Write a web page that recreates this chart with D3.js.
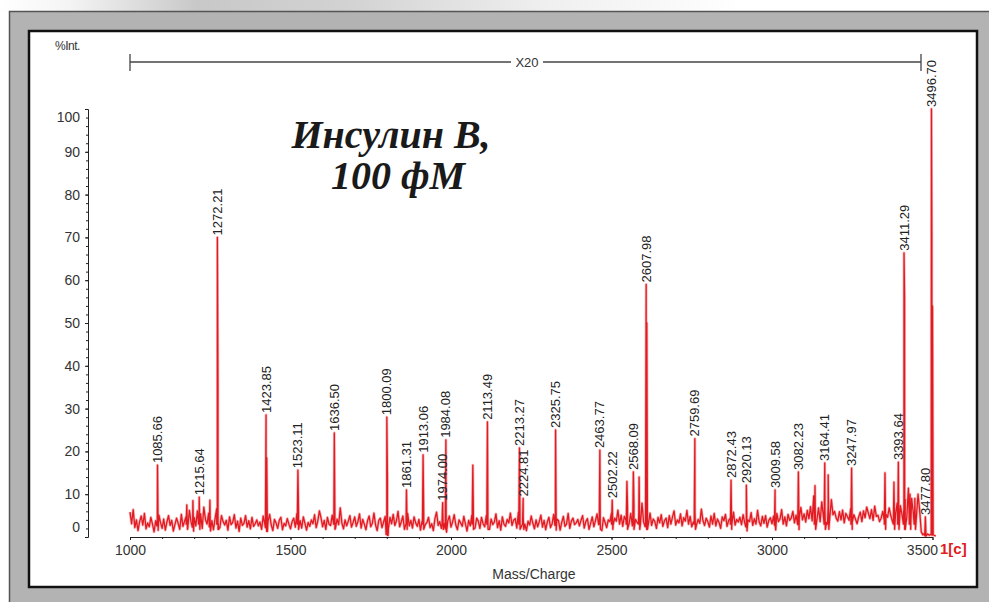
<!DOCTYPE html>
<html>
<head>
<meta charset="utf-8">
<script src="https://cdn.jsdelivr.net/npm/d3@7"></script>
<style>
body { margin: 0; background: #fff; }
</style>
</head>
<body>
<script>
// labelled peaks (m/z, %Int)
var peakLabels = ["1085.66","1215.64","1272.21","1423.85","1523.11","1636.50","1800.09","1861.31","1913.06","1974.00",
                  "1984.08","2113.49","2213.27","2224.81","2325.75","2463.77","2502.22","2568.09","2607.98","2759.69",
                  "2872.43","2920.13","3009.58","3082.23","3164.41","3247.97","3393.64","3411.29","3477.80","3496.70"];
var peakInt = [16.8, 9.3, 70, 28.5, 15.6, 24.3, 28, 11, 19.2, 8,
               22.7, 26.9, 20.8, 9, 25, 20.3, 8.6, 15.2, 59, 23,
               13.3, 12.1, 11, 15.2, 17.3, 16.1, 17.5, 66.4, 4.7, 100];

// unlabelled peaks and shoulders
var otherMass = [1177, 1196, 1249, 1274, 1426, 1802, 2068, 2548, 2586, 2610, 3134, 3175, 3352, 3380, 3413, 3430, 3445, 3498, 3500];
var otherInt  = [7.5, 8.5, 8.6, 36, 18.5, 14, 16.8, 13, 14, 50, 12, 14.5, 15, 12, 56, 10, 9, 71, 54];

// baseline noise, one value every 5 Da from 1000
var noiseStart = 1000, noiseStep = 5;
var noise = [
  5.8,3.1,6.4,2.2,4.0,1.5,3.6,4.9,2.8,5.5,1.9,3.3,2.4,4.6,3.0,1.2,3.8,2.6,5.1,3.4,
  2.0,4.2,1.6,3.5,5.0,2.7,3.9,1.4,2.9,4.4,3.2,1.8,5.3,2.5,3.7,4.8,2.1,6.2,3.6,2.3,
  4.5,2.6,6.1,3.3,5.4,2.0,7.0,4.1,3.0,5.6,2.4,3.8,1.7,4.3,6.6,3.1,2.2,5.0,3.6,2.8,
  3.9,1.6,4.7,2.9,3.4,5.2,2.1,3.7,1.3,4.4,2.7,3.2,5.0,2.3,3.8,1.9,4.6,2.5,3.1,4.0,
  2.6,3.5,1.8,4.9,3.0,2.2,3.7,5.3,2.8,1.5,4.1,3.3,2.0,3.9,4.6,1.7,3.2,2.6,4.3,3.0,
  1.9,3.6,4.4,2.3,5.5,6.0,3.8,2.1,4.7,3.2,1.6,3.4,2.5,4.0,3.1,5.2,2.2,3.7,6.1,4.5,
  2.4,3.9,1.8,4.6,3.0,2.7,5.1,3.5,2.0,4.2,2.9,6.8,3.3,1.9,4.0,2.6,3.7,5.0,2.3,3.4,
  4.7,2.5,3.6,5.4,2.1,4.1,3.0,1.7,3.8,4.9,2.4,3.2,5.6,2.8,1.5,3.9,4.4,2.2,3.5,4.8,
  0.6,2.0,4.6,3.1,5.3,2.7,3.8,6.0,2.4,3.5,4.9,1.8,3.0,5.5,2.6,3.9,2.1,4.7,3.3,2.5,
  4.1,1.6,3.7,5.0,2.9,3.4,4.6,2.2,3.1,1.5,4.3,5.8,2.7,3.6,2.0,4.5,3.2,1.9,3.8,4.9,
  2.3,3.5,5.2,2.8,1.7,4.0,3.3,2.5,4.8,3.0,1.4,3.9,2.6,5.1,3.4,2.1,4.4,3.7,2.0,4.6,
  3.1,2.4,5.0,3.6,1.8,4.2,2.9,3.5,5.4,2.2,3.8,1.6,4.7,3.0,2.5,4.1,3.3,5.6,2.7,3.9,
  4.3,2.1,5.8,3.4,2.6,4.5,3.0,1.5,3.7,2.8,4.9,3.2,1.9,4.0,2.4,3.6,5.1,2.3,3.9,1.7,
  3.5,4.6,2.2,3.1,5.3,2.7,4.2,3.8,1.6,3.4,4.8,2.5,3.0,5.5,2.0,3.7,4.4,2.9,3.3,4.1,
  2.6,3.9,5.0,2.1,3.6,4.3,1.8,3.2,4.7,2.4,3.8,5.4,2.9,3.1,1.5,4.5,3.4,2.2,4.0,3.6,
  5.6,2.8,4.4,3.7,6.3,3.0,5.1,2.5,4.8,3.9,6.7,3.2,5.5,2.6,7.2,4.1,3.4,6.0,2.9,7.9,
  3.5,2.4,4.9,3.1,5.6,2.7,4.2,3.6,2.0,4.6,3.3,5.2,2.5,3.8,4.4,2.2,5.0,3.0,4.7,6.1,
  2.8,4.0,3.3,5.4,2.6,4.5,3.7,6.2,3.0,4.8,2.4,3.5,5.7,2.9,4.1,3.2,6.5,3.8,2.7,4.4,
  3.6,2.3,4.9,3.0,5.5,2.6,4.2,3.4,2.0,4.7,3.8,5.3,2.5,3.9,4.4,3.1,5.8,2.8,4.1,3.5,
  4.6,2.9,5.2,3.3,2.4,4.0,3.6,5.7,2.7,4.3,3.0,6.2,3.5,2.6,4.8,3.2,5.0,2.3,3.9,4.5,
  3.1,4.9,2.8,5.5,3.6,4.2,6.4,3.0,4.7,2.6,5.3,3.9,4.4,6.0,3.3,5.1,2.9,4.6,6.9,4.0,
  5.4,3.5,6.2,4.3,7.1,3.8,9.6,5.0,4.1,6.8,3.6,8.2,4.9,5.7,3.4,7.4,4.6,8.7,5.2,6.0,
  4.4,3.7,5.9,4.0,6.3,3.3,5.5,4.8,3.9,6.6,3.5,5.2,4.2,3.1,4.7,5.8,3.6,6.1,4.5,7.0,
  5.6,4.3,6.4,3.9,7.2,4.8,5.1,3.6,4.4,6.0,3.8,5.3,4.6,6.8,5.0,3.7,12.8,5.5,7.9,4.9,
  7.3,5.2,6.1,8.8,4.7,11.4,6.5,9.0,5.8,7.6,4.9,10.0,6.2,1.2,0.5,0.9,0.3,0.7,0.4,0.6,
  0.9,0.4,0.2
];

var xTicks = [1000, 1500, 2000, 2500, 3000, 3500];
var yTicks = [0, 10, 20, 30, 40, 50, 60, 70, 80, 90, 100];

var W = 989, H = 602;
var red = "#e21a22";
var sans = "'Liberation Sans', Arial, sans-serif";

var x = d3.scaleLinear().domain([1000, 3500]).range([130, 932.5]);
var y = d3.scaleLinear().domain([0, 100]).range([537, 109]);

var svg = d3.select("body").append("svg")
    .attr("width", W)
    .attr("height", H)
    .style("font-family", sans);

// page background + frame
var grad = svg.append("defs").append("linearGradient").attr("id", "top");
[[0, "#ffffff"], [0.07, "#f4f4f4"], [0.2, "#c8c8c8"], [0.35, "#d2d2d2"], [0.55, "#efefef"], [0.75, "#ffffff"]]
    .forEach(function(s) { grad.append("stop").attr("offset", s[0]).attr("stop-color", s[1]); });
svg.append("rect").attr("width", W).attr("height", 12).attr("fill", "url(#top)");
svg.append("rect").attr("x", 9).attr("y", 11).attr("width", W - 9).attr("height", H - 11)
    .attr("fill", "#b3b3b3");
svg.append("path").attr("d", "M9.5," + H + "V11.5H" + W)
    .attr("fill", "none").attr("stroke", "#555").attr("stroke-width", 1.5);
svg.append("rect").attr("x", 29).attr("y", 31).attr("width", 948).attr("height", 556)
    .attr("fill", "#fff").attr("stroke", "#111").attr("stroke-width", 2.5);

// X20 bracket
svg.append("line").attr("x1", 130).attr("x2", 921).attr("y1", 62).attr("y2", 62)
    .attr("stroke", "#444").attr("stroke-width", 1.3);
[130, 921].forEach(function(px) {
    svg.append("line").attr("x1", px).attr("x2", px).attr("y1", 54).attr("y2", 71)
        .attr("stroke", "#444").attr("stroke-width", 1.3);
});
svg.append("rect").attr("x", 511).attr("y", 56).attr("width", 32).attr("height", 12).attr("fill", "#fff");
svg.append("text").attr("x", 527).attr("y", 67).attr("text-anchor", "middle")
    .attr("font-size", 13).attr("fill", "#333").text("X20");

svg.append("text").attr("x", 55).attr("y", 50).attr("font-size", 12).attr("fill", "#333")
    .attr("letter-spacing", -0.5).text("%Int.");

// build spectrum trace
var pts = noise.map(function(v, i) { return [noiseStart + i * noiseStep, v]; });
function baseAt(m) {
    var i = Math.max(0, Math.min(noise.length - 1, Math.round((m - noiseStart) / noiseStep)));
    return noise[i];
}
function addPeak(m, v) {
    var b = Math.min(baseAt(m), 3);
    pts.push([m - 2, b], [m, v], [m + 2, b * 0.6]);
}
peakLabels.forEach(function(l, i) { addPeak(+l, peakInt[i]); });
otherMass.forEach(function(m, i) { addPeak(m, otherInt[i]); });
pts.sort(function(a, b) { return a[0] - b[0]; });

var line = d3.line().x(function(d) { return x(d[0]); }).y(function(d) { return y(d[1]); });
// soft halo, then the trace itself
svg.append("path").datum(pts)
    .attr("d", line)
    .attr("fill", "none")
    .attr("stroke", "#f07a7e")
    .attr("stroke-opacity", 0.55)
    .attr("stroke-width", 2.8)
    .attr("stroke-linejoin", "round");
svg.append("path").datum(pts)
    .attr("d", line)
    .attr("fill", "none")
    .attr("stroke", red)
    .attr("stroke-width", 1.3)
    .attr("stroke-linejoin", "round");

// axes
var xAxis = svg.append("g").attr("transform", "translate(0,537)")
    .call(d3.axisBottom(x).tickValues(xTicks).tickSize(3).tickPadding(5).tickFormat(d3.format("d")));
svg.append("g").attr("transform", "translate(0,537)")
    .call(d3.axisBottom(x).tickValues(d3.range(1100, 3500, 100)).tickSize(2).tickFormat(""))
    .select(".domain").remove();
xAxis.selectAll("text").attr("font-size", 14).attr("fill", "#333").style("font-family", sans);
xAxis.selectAll(".tick").filter(function(d) { return d === 3500; }).select("text")
    .attr("text-anchor", "end").attr("x", 5);

var yAxis = svg.append("g").attr("transform", "translate(88,0)")
    .call(d3.axisLeft(y).tickValues(yTicks).tickSize(3).tickPadding(5));
svg.append("g").attr("transform", "translate(88,0)")
    .call(d3.axisLeft(y).tickValues(d3.range(2, 100, 2)).tickSize(2).tickFormat(""))
    .select(".domain").remove();
yAxis.selectAll("text").attr("font-size", 14).attr("fill", "#333").style("font-family", sans);
yAxis.selectAll(".tick").filter(function(d) { return d === 0; }).select("text").attr("dy", "-0.4em");
yAxis.selectAll(".tick").filter(function(d) { return d === 100; }).select("text").attr("dy", "0.9em");
svg.selectAll(".domain, .tick line").attr("stroke", "#222");

svg.append("text").attr("x", 534).attr("y", 579).attr("text-anchor", "middle")
    .attr("font-size", 14).attr("fill", "#333").text("Mass/Charge");
svg.append("text").attr("x", 940).attr("y", 554).attr("font-size", 15).attr("font-weight", "bold")
    .attr("fill", red).text("1[c]");

// peak labels
svg.append("g").selectAll("text")
    .data(peakLabels)
    .enter()
    .append("text")
    .attr("transform", function(d, i) {
        return "translate(" + x(+d) + "," + (y(peakInt[i]) - 2) + ") rotate(-90)";
    })
    .attr("dy", "0.35em")
    .attr("font-size", 13)
    .attr("fill", "#222")
    .text(function(d) { return d; });

// title
var title = svg.append("text").attr("text-anchor", "middle")
    .style("font-family", "'Liberation Serif', 'DejaVu Serif', serif")
    .attr("font-style", "italic").attr("font-weight", "bold")
    .attr("font-size", 40).attr("fill", "#1a1a1a");
title.append("tspan").attr("x", 391).attr("y", 148).text("Инсулин В,");
title.append("tspan").attr("x", 398).attr("y", 189).text("100 фМ");
</script>
</body>
</html>
